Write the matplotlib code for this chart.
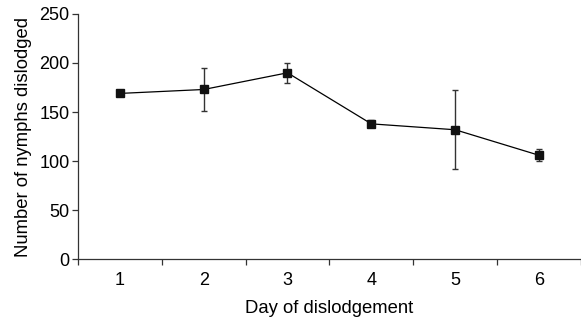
import numpy as np
import matplotlib
matplotlib.use('Agg')
import matplotlib.pyplot as plt

# data
days = [1, 2, 3, 4, 5, 6]
nymphs = [169, 173, 190, 138, 132, 106]
err = [0, 22, 10, 3.5, 40, 6]
y_ticks = [0, 50, 100, 150, 200, 250]
x_tick_pos = [0.5, 1.5, 2.5, 3.5, 4.5, 5.5, 6.5]

plt.rcParams['font.family'] = ['Liberation Sans', 'DejaVu Sans']

fig = plt.figure(figsize=(5.81, 3.23), dpi=100)
ax = fig.add_axes([0.134, 0.197, 0.866, 0.76])

ax.errorbar(days, nymphs, yerr=err, fmt='none', ecolor='#333333', elinewidth=1.0,
			capsize=2.5, capthick=1.0, zorder=2)
ax.plot(days, nymphs, color='black', linewidth=0.9, marker='s', markersize=6,
		markerfacecolor='#111111', markeredgecolor='#111111', zorder=3)

ax.set_xlim(0.5, 6.47)
ax.set_ylim(0, 250)
ax.set_yticks(y_ticks)
ax.set_xticks(x_tick_pos)
ax.set_xticklabels([])
ax.set_xticks(days, minor=True)
ax.set_xticklabels([str(d) for d in days], minor=True)
ax.tick_params(axis='x', which='minor', length=0, pad=9, labelsize=13)
ax.tick_params(axis='x', which='major', direction='out', length=4, width=0.9, color='#333333')
ax.tick_params(axis='y', direction='out', length=4, width=0.9, color='#333333', labelsize=13, pad=2)

for s in ['top', 'right']:
	ax.spines[s].set_visible(False)
for s in ['left', 'bottom']:
	ax.spines[s].set_linewidth(0.9)
	ax.spines[s].set_color('#333333')

ax.set_xlabel('Day of dislodgement', fontsize=13.3, labelpad=8)
ax.set_ylabel('Number of nymphs dislodged', fontsize=13.3, labelpad=5)

fig.savefig('out.png', dpi=100)
